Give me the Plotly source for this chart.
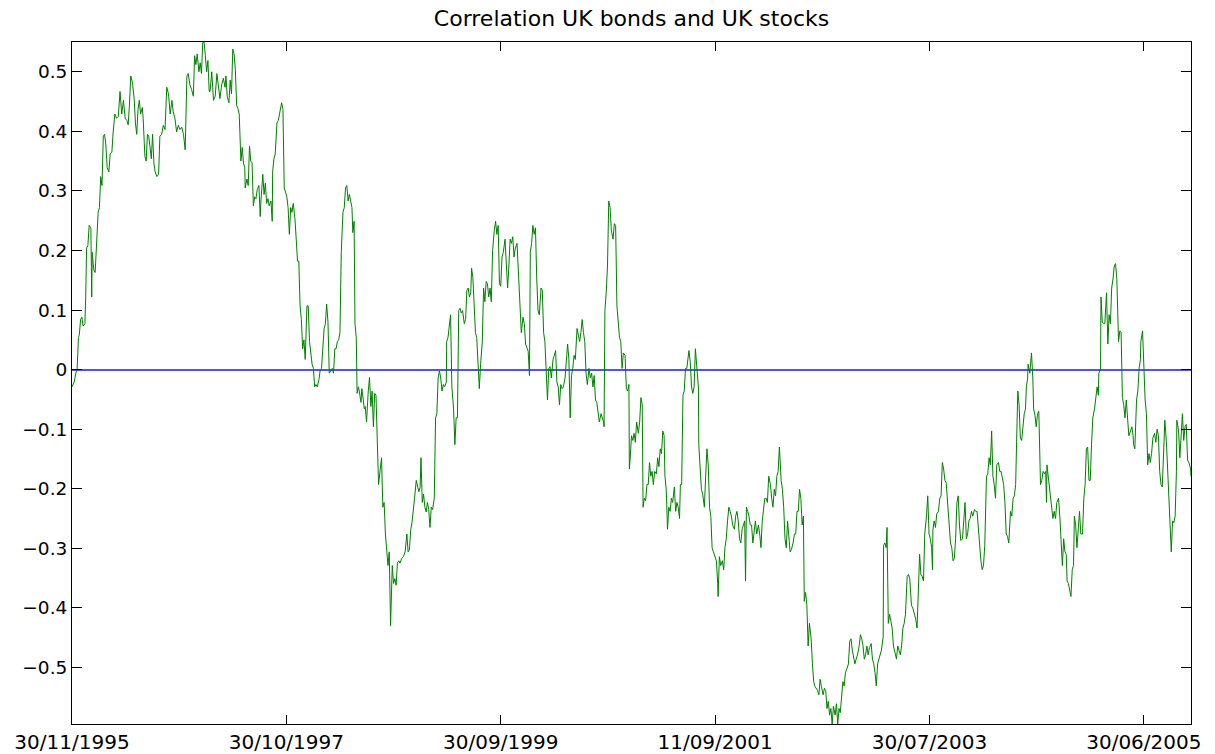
import plotly.graph_objects as go

# Rolling correlation between UK bond and UK stock returns, by observation number
obs = [
    1, 6, 10, 13, 16, 18, 21, 24, 27, 31, 33, 35, 38, 41, 45, 47, 48, 52, 55, 59,
    62, 65, 68, 71, 74, 77, 80, 83, 87, 90, 94, 97, 101, 105, 109, 113, 117, 121, 125, 129,
    132, 135, 138, 142, 146, 149, 152, 155, 158, 161, 165, 167, 171, 174, 177, 180, 183, 186, 189, 192,
    195, 199, 203, 206, 210, 214, 218, 222, 226, 230, 234, 237, 241, 245, 249, 253, 257, 261, 265, 269,
    272, 276, 280, 284, 287, 290, 293, 297, 300, 303, 306, 309, 312, 315, 318, 321,
    323, 327, 331, 335, 339, 342, 346, 350, 354, 358, 360, 363, 367, 370, 373, 376, 379, 382, 385, 388,
    391, 395, 398, 401, 404, 405, 409, 412, 415, 418, 421, 424, 427, 430, 433, 437, 440, 441, 444, 446,
    449, 452, 455, 458, 461, 465, 468, 469, 472, 475, 479, 482, 485, 488, 490, 493, 496, 499, 502, 505,
    508, 511, 514, 517, 521, 524, 527, 530, 533, 536, 539, 542, 545, 549, 552, 555, 558, 561, 564, 567,
    570, 573, 577, 580, 583, 586, 589, 592, 595, 598, 601, 605, 608, 611, 614, 617, 620, 623, 626, 629,
    633, 636, 639, 642, 645, 648,
    654, 656, 659, 661, 664, 666, 669, 671, 675, 677, 681, 683, 685, 688, 692, 695, 698, 701, 704, 707,
    710, 713, 716, 720, 723, 726, 729, 732, 735, 738, 741, 744, 748, 751, 754, 757, 760, 763, 766, 770,
    774, 778, 782, 785, 788, 791, 794, 797, 800, 804, 807, 810, 813, 815, 818, 821, 824, 827, 830, 833,
    836, 839, 842, 846, 849, 852, 855, 858, 861, 864, 867, 870, 874, 875, 878, 881, 884, 887, 891, 894,
    897, 900, 903, 906, 909, 912, 916, 919, 922, 925, 928, 931, 933, 936, 939, 942, 945, 948, 951, 954,
    958, 961, 964, 967, 970, 973,
    976, 979, 982, 986, 989, 992, 995, 998, 1001, 1004, 1007, 1011, 1014, 1017, 1020, 1023, 1026, 1029, 1032, 1035,
    1039, 1042, 1045, 1048, 1049, 1053, 1056, 1059, 1062, 1065, 1068, 1070, 1073, 1076, 1079, 1082, 1085, 1088, 1091, 1095,
    1098, 1101, 1104, 1107, 1110, 1113, 1116, 1119, 1123, 1126, 1129, 1132, 1135, 1138, 1141, 1144, 1147, 1151, 1154, 1157,
    1160, 1163, 1166, 1169, 1172, 1175, 1179, 1182, 1185, 1188, 1191, 1194, 1197, 1200, 1203, 1207, 1210, 1213, 1216, 1219,
    1222, 1225, 1228, 1231, 1235, 1238, 1241, 1242, 1244, 1247, 1250, 1253, 1256, 1259, 1263, 1266, 1269, 1272, 1275, 1278,
    1281, 1284, 1287, 1291, 1294, 1297, 1300, 1301,
    1303, 1306, 1309, 1312, 1315, 1318, 1322, 1325, 1328, 1331, 1333, 1336, 1339, 1342, 1345, 1348, 1351, 1354, 1357, 1360,
    1364, 1367, 1370, 1373, 1376, 1379, 1382, 1384, 1387, 1390, 1393, 1396, 1399, 1402, 1406, 1409, 1412, 1415, 1418, 1420,
    1423, 1426, 1429, 1432, 1435, 1438, 1440, 1443, 1446, 1449, 1452, 1455, 1458, 1462, 1463, 1466, 1469, 1472, 1476, 1479,
    1482, 1485, 1488, 1491, 1494, 1497, 1500, 1504, 1507, 1508, 1511, 1514, 1518, 1521, 1524, 1527, 1530, 1533, 1536, 1539,
    1542, 1546, 1549, 1552, 1555, 1558, 1561, 1564, 1567, 1570, 1572, 1574, 1577, 1580, 1583, 1586, 1589, 1592, 1595, 1598,
    1602, 1605, 1608, 1611, 1614, 1617, 1620, 1623, 1626,
    1630, 1633, 1636, 1639, 1642, 1645, 1648, 1651, 1655, 1658, 1661, 1664, 1667, 1670, 1673, 1676, 1679, 1683, 1686, 1689,
    1692, 1695, 1698, 1701, 1704, 1707, 1709, 1712, 1715, 1718, 1721, 1725, 1728, 1731, 1734, 1737, 1740, 1743, 1746, 1749,
    1753, 1756, 1759, 1762, 1765, 1768, 1771, 1774, 1777, 1781, 1784, 1787, 1790, 1793, 1796, 1799, 1802, 1805, 1809, 1812,
    1815, 1818, 1821, 1824, 1827, 1830, 1833, 1837, 1840, 1843, 1846, 1849, 1852, 1855, 1858, 1861, 1865, 1868, 1871, 1874,
    1877, 1880, 1883, 1886, 1889, 1893, 1894, 1897, 1900, 1902, 1905, 1908, 1911, 1914, 1917, 1921, 1924, 1927, 1930, 1933,
    1936, 1939, 1942, 1945, 1949, 1952, 1955,
    1959, 1962, 1966, 1969, 1972, 1975, 1978, 1981, 1984, 1987, 1990, 1994, 1997, 2000, 2003, 2006, 2008, 2009, 2012, 2015,
    2018, 2022, 2025, 2028, 2031, 2034, 2037, 2040, 2043, 2046, 2050, 2053, 2056, 2059, 2062, 2065, 2068, 2071, 2074, 2078,
    2081, 2084, 2087, 2090, 2093, 2096, 2099, 2102, 2106, 2109, 2112, 2115, 2118, 2121, 2124, 2127, 2130, 2134, 2137, 2140,
    2143, 2146, 2149, 2152, 2155, 2158, 2162, 2165, 2168, 2171, 2174, 2177, 2180, 2183, 2186, 2190, 2193, 2196, 2199, 2202,
    2204, 2207, 2210, 2213, 2216, 2219, 2222, 2225, 2227, 2230, 2231, 2235, 2238, 2239, 2242, 2244, 2247, 2250, 2253, 2256,
    2260, 2263, 2266, 2269, 2272, 2274, 2275, 2278, 2281,
    2283, 2286, 2289, 2292, 2295, 2298, 2302, 2305, 2308, 2311, 2314, 2317, 2320, 2322, 2325, 2328, 2331, 2334, 2337, 2339,
    2342, 2345, 2348, 2351, 2354, 2358, 2361, 2364, 2367, 2370, 2373, 2376, 2379, 2382, 2386, 2389, 2392, 2395, 2396, 2400,
    2401, 2404, 2407, 2410, 2414, 2417, 2420, 2423, 2426, 2429, 2432, 2435, 2438, 2442, 2445, 2448, 2451, 2454, 2457, 2460,
    2463, 2466, 2470, 2473, 2476, 2477, 2480, 2484, 2487, 2490, 2493, 2494, 2498, 2501, 2504, 2507, 2510, 2513, 2516, 2519,
    2522, 2526, 2529, 2532, 2535, 2538, 2541, 2544, 2547, 2550, 2554, 2557, 2560, 2563, 2565, 2568, 2571, 2574, 2577, 2578,
    2582, 2585, 2588, 2591, 2594, 2597, 2600, 2603, 2606, 2610, 2611,
]

corr = [
    -0.029, -0.021, -0.006, 0.000, 0.054, 0.058, 0.084, 0.088, 0.073, 0.077, 0.122, 0.204, 0.208, 0.242, 0.238, 0.122, 0.197, 0.167, 0.163, 0.227,
    0.264, 0.272, 0.324, 0.309, 0.392, 0.395, 0.377, 0.339, 0.332, 0.362, 0.365, 0.399, 0.429, 0.422, 0.425, 0.467, 0.429, 0.452, 0.422, 0.418,
    0.411, 0.444, 0.493, 0.482, 0.455, 0.414, 0.395, 0.437, 0.452, 0.429, 0.440, 0.422, 0.358, 0.350, 0.395, 0.392, 0.377, 0.354, 0.395, 0.347,
    0.332, 0.324, 0.328, 0.392, 0.395, 0.410, 0.403, 0.474, 0.463, 0.429, 0.452, 0.433, 0.422, 0.399, 0.410, 0.403, 0.407, 0.395, 0.369, 0.493,
    0.497, 0.478, 0.470, 0.459, 0.527, 0.512, 0.530, 0.500, 0.515, 0.497, 0.549, 0.550, 0.527, 0.500, 0.519, 0.467,
    0.467, 0.500, 0.452, 0.459, 0.497, 0.482, 0.455, 0.478, 0.489, 0.474, 0.493, 0.459, 0.448, 0.486, 0.463, 0.538, 0.530, 0.504, 0.444, 0.438,
    0.429, 0.350, 0.373, 0.347, 0.339, 0.305, 0.320, 0.309, 0.375, 0.350, 0.347, 0.275, 0.290, 0.287, 0.302, 0.309, 0.257, 0.275, 0.313, 0.328,
    0.294, 0.313, 0.279, 0.287, 0.275, 0.283, 0.249, 0.332, 0.354, 0.362, 0.414, 0.418, 0.429, 0.444, 0.448, 0.437, 0.305, 0.298, 0.290, 0.272,
    0.227, 0.272, 0.264, 0.279, 0.253, 0.219, 0.182, 0.182, 0.107, 0.084, 0.035, 0.050, 0.017, 0.107, 0.107, 0.047, 0.028, 0.009, 0.002, -0.029,
    -0.025, -0.029, -0.017, 0.000, 0.002, 0.039, 0.069, 0.077, 0.110, 0.080, -0.006, -0.002, 0.002, -0.006, 0.035, 0.035, 0.047, 0.050, 0.062, 0.197,
    0.264, 0.272, 0.305, 0.309, 0.283, 0.294,
    0.272, 0.230, 0.249, 0.077, 0.054, -0.040, -0.029, -0.036, -0.055, -0.032, -0.051, -0.066, -0.062, -0.088, -0.036, -0.013, -0.062, -0.036, -0.096, -0.040,
    -0.043, -0.141, -0.193, -0.167, -0.148, -0.231, -0.223, -0.276, -0.306, -0.329, -0.306, -0.430, -0.329, -0.359, -0.351, -0.362, -0.325, -0.321, -0.325, -0.317,
    -0.314, -0.306, -0.276, -0.306, -0.302, -0.269, -0.257, -0.239, -0.216, -0.186, -0.194, -0.205, -0.198, -0.148, -0.223, -0.209, -0.231, -0.239, -0.223, -0.235,
    -0.265, -0.231, -0.235, -0.216, -0.081, -0.074, -0.014, -0.002, -0.014, -0.036, -0.025, -0.029, -0.021, 0.047, 0.054, 0.069, 0.092, -0.029, -0.066, -0.126,
    -0.081, -0.081, 0.099, 0.103, 0.095, 0.099, 0.077, 0.084, 0.133, 0.137, 0.122, 0.129, 0.170, 0.155, 0.114, 0.062, 0.054, -0.006, -0.032, 0.009,
    0.047, 0.137, 0.114, 0.148, 0.144, 0.122,
    0.137, 0.114, 0.200, 0.234, 0.249, 0.227, 0.242, 0.144, 0.140, 0.189, 0.197, 0.219, 0.167, 0.137, 0.174, 0.219, 0.212, 0.223, 0.189, 0.204,
    0.212, 0.167, 0.137, 0.092, 0.062, 0.088, 0.077, 0.043, 0.035, 0.031, -0.010, 0.197, 0.212, 0.242, 0.227, 0.238, 0.152, 0.099, 0.092, 0.137,
    0.133, 0.062, 0.047, 0.002, -0.051, 0.002, 0.005, -0.014, 0.017, 0.024, 0.032, -0.021, -0.029, -0.059, -0.025, -0.032, -0.029, -0.014, 0.024, 0.043,
    0.017, -0.081, -0.010, 0.002, 0.024, 0.017, 0.069, 0.054, 0.047, 0.062, 0.084, 0.062, 0.047, -0.006, -0.025, 0.002, -0.014, -0.006, -0.029, -0.010,
    -0.051, -0.055, -0.074, -0.088, -0.074, -0.081, -0.088, -0.096, 0.099, 0.129, 0.174, 0.283, 0.272, 0.234, 0.219, 0.245, 0.242, 0.107, 0.073, 0.054,
    0.047, 0.002, 0.028, 0.024, -0.032, -0.036, -0.025, -0.167,
    -0.148, -0.111, -0.119, -0.107, -0.122, -0.088, -0.107, -0.088, -0.047, -0.059, -0.231, -0.216, -0.220, -0.193, -0.193, -0.156, -0.179, -0.171, -0.193, -0.171,
    -0.175, -0.148, -0.163, -0.133, -0.141, -0.103, -0.111, -0.179, -0.201, -0.268, -0.231, -0.238, -0.216, -0.223, -0.197, -0.238, -0.223, -0.231, -0.250, -0.193,
    -0.193, -0.043, -0.036, 0.002, 0.002, 0.024, 0.032, 0.013, -0.029, -0.040, -0.029, 0.035, 0.002, -0.029, -0.126, -0.179, -0.201, -0.209, -0.231, -0.179,
    -0.133, -0.160, -0.231, -0.246, -0.299, -0.306, -0.314, -0.321, -0.359, -0.381, -0.314, -0.329, -0.321, -0.336, -0.299, -0.284, -0.254, -0.231, -0.238, -0.246,
    -0.261, -0.268, -0.246, -0.238, -0.254, -0.284, -0.291, -0.268, -0.261, -0.254, -0.355, -0.231, -0.238, -0.246, -0.261, -0.261, -0.291, -0.268, -0.254, -0.276,
    -0.261, -0.276, -0.299, -0.254, -0.238, -0.216, -0.216, -0.223, -0.179,
    -0.193, -0.216, -0.231, -0.201, -0.212, -0.179, -0.171, -0.130, -0.186, -0.201, -0.231, -0.284, -0.299, -0.254, -0.276, -0.306, -0.302, -0.291, -0.276, -0.276,
    -0.238, -0.238, -0.201, -0.216, -0.261, -0.246, -0.389, -0.374, -0.396, -0.464, -0.426, -0.452, -0.494, -0.524, -0.532, -0.535, -0.539, -0.546, -0.520, -0.532,
    -0.546, -0.535, -0.539, -0.569, -0.557, -0.580, -0.569, -0.595, -0.565, -0.580, -0.561, -0.595, -0.569, -0.576, -0.554, -0.524, -0.531, -0.509, -0.501, -0.494,
    -0.456, -0.452, -0.471, -0.486, -0.494, -0.486, -0.479, -0.464, -0.445, -0.452, -0.464, -0.486, -0.479, -0.464, -0.479, -0.467, -0.460, -0.486, -0.494, -0.509,
    -0.531, -0.494, -0.486, -0.479, -0.471, -0.449, -0.295, -0.291, -0.299, -0.265, -0.426, -0.411, -0.426, -0.434, -0.464, -0.479, -0.486, -0.464, -0.471, -0.479,
    -0.464, -0.434, -0.426, -0.411, -0.347, -0.344, -0.351,
    -0.396, -0.400, -0.411, -0.419, -0.434, -0.374, -0.310, -0.344, -0.347, -0.355, -0.276, -0.246, -0.212, -0.276, -0.284, -0.299, -0.336, -0.269, -0.254, -0.265,
    -0.242, -0.238, -0.216, -0.212, -0.156, -0.167, -0.186, -0.190, -0.223, -0.238, -0.291, -0.299, -0.321, -0.317, -0.284, -0.223, -0.212, -0.261, -0.287, -0.284,
    -0.257, -0.223, -0.284, -0.276, -0.254, -0.250, -0.238, -0.246, -0.235, -0.238, -0.238, -0.268, -0.284, -0.321, -0.336, -0.329, -0.295, -0.179, -0.175, -0.148,
    -0.160, -0.103, -0.179, -0.193, -0.216, -0.160, -0.156, -0.171, -0.171, -0.186, -0.193, -0.223, -0.276, -0.280, -0.291, -0.238, -0.246, -0.216, -0.212, -0.193,
    -0.103, -0.036, -0.059, -0.115, -0.119, -0.096, -0.074, -0.066, -0.029, -0.014, 0.009, -0.006, 0.024, 0.028, -0.014, -0.066, -0.077, -0.096, -0.074, -0.070,
    -0.193, -0.186, -0.171, -0.175, -0.171, -0.223, -0.160, -0.179, -0.193,
    -0.201, -0.223, -0.250, -0.238, -0.250, -0.223, -0.216, -0.246, -0.280, -0.329, -0.284, -0.306, -0.310, -0.355, -0.359, -0.374, -0.381, -0.336, -0.329, -0.246,
    -0.261, -0.299, -0.261, -0.238, -0.276, -0.276, -0.216, -0.193, -0.133, -0.130, -0.186, -0.186, -0.126, -0.081, -0.066, -0.040, -0.029, -0.043, -0.006, 0.000,
    0.122, 0.080, 0.077, 0.077, 0.129, 0.043, 0.092, 0.077, 0.137, 0.152, 0.174, 0.178, 0.152, 0.047, 0.065, 0.062, -0.047, -0.059, -0.081, -0.051,
    -0.081, -0.111, -0.103, -0.096, -0.111, -0.126, -0.133, -0.051, -0.036, 0.002, 0.017, 0.047, 0.065, 0.002, -0.051, -0.074, -0.160, -0.141, -0.156, -0.141,
    -0.115, -0.107, -0.122, -0.100, -0.111, -0.171, -0.193, -0.197, -0.126, -0.085, -0.126, -0.179, -0.216, -0.254, -0.306, -0.254, -0.257, -0.246, -0.171, -0.085,
    -0.103, -0.148, -0.103, -0.074, -0.119, -0.096, -0.092, -0.152, -0.156, -0.167, -0.179,
]

assert len(obs) == len(corr)

# x axis labels: dates every 500 observations
date_ticks = [1, 501, 1001, 1501, 2001, 2501]
date_labels = ["30/11/1995", "30/10/1997", "30/09/1999", "11/09/2001", "30/07/2003", "30/06/2005"]

corr_ticks = [-0.5, -0.4, -0.3, -0.2, -0.1, 0.0, 0.1, 0.2, 0.3, 0.4, 0.5]
corr_labels = ["\u22120.5", "\u22120.4", "\u22120.3", "\u22120.2", "\u22120.1", "0",
               "0.1", "0.2", "0.3", "0.4", "0.5"]

FONT = "DejaVu Sans"

fig = go.Figure()
fig.add_trace(go.Scatter(
    x=obs, y=corr, mode="lines",
    line=dict(color="rgb(0,128,0)", width=1),
    showlegend=False, hoverinfo="skip",
))

fig.update_layout(
    width=1215, height=754,
    margin=dict(l=72, r=24, t=42, b=30),
    paper_bgcolor="white", plot_bgcolor="white",
    title=dict(
        text="Correlation UK bonds and UK stocks",
        x=0.5, xref="paper", xanchor="center",
        y=1 - 18 / 754, yref="container", yanchor="middle",
        font=dict(family=FONT, size=22, color="black"),
    ),
    xaxis=dict(
        range=[obs[0], obs[-1]],
        tickvals=date_ticks, ticktext=date_labels,
        ticks="inside", ticklen=9, tickwidth=1, tickcolor="black",
        showline=True, linecolor="black", linewidth=1, mirror="allticks",
        showgrid=False, zeroline=False, automargin=False,
        tickfont=dict(family=FONT, size=20, color="black"),
    ),
    yaxis=dict(
        range=[min(corr), max(corr)],
        tickvals=corr_ticks, ticktext=corr_labels,
        ticks="inside", ticklen=10, tickwidth=1, tickcolor="black",
        showline=True, linecolor="black", linewidth=1, mirror="allticks",
        showgrid=False,
        # blue reference line at zero correlation
        zeroline=True, zerolinecolor="rgb(80,80,255)", zerolinewidth=2,
        automargin=False,
        tickfont=dict(family=FONT, size=18.5, color="black"),
    ),
)

fig.write_html("out.html")
